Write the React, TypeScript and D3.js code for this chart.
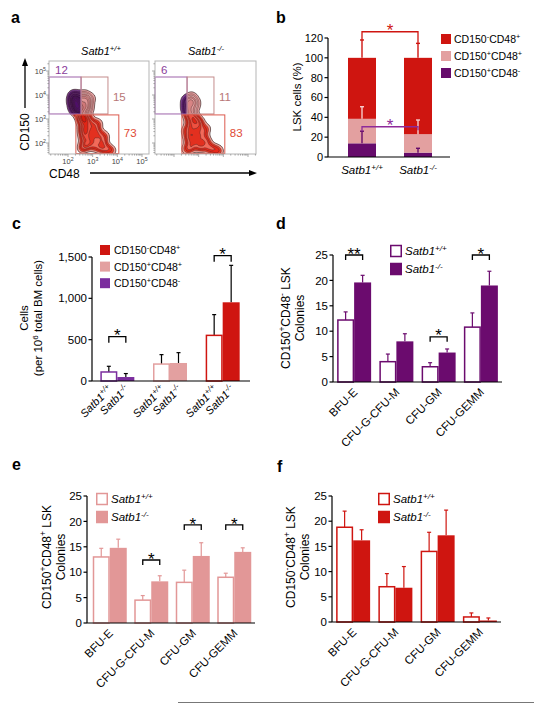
import React, { useMemo } from "react";
import * as d3 from "d3";

const FONT = "'Liberation Sans', Arial, Helvetica, sans-serif";

// ---------- colours ----------
const RED = "#cf1510";
const PINK = "#e3a0a0";
const PINK_E = "#e29797";
const PURPLE_B = "#660b6b";
const PURPLE_C = "#7b2d9e";
const PURPLE_D = "#6b0b6e";

// ---------- data ----------
const genotypes = ["Satb1^{+/+}", "Satb1^{-/-}"];
const populations = ["CD150^{+}CD48^{-}", "CD150^{+}CD48^{+}", "CD150^{-}CD48^{+}"];

// panel a: gate percentages [CD150+CD48-, CD150+CD48+, CD150-CD48+]
const gateWT = [12, 15, 73];
const gateKO = [6, 11, 83];
const flowDecades = [2, 3, 4, 5];
// approximate event clusters (log10 CD48, log10 CD150, weight)
type Pt = [number, number, number];
const flowWT: Pt[] = [
  [2.3, 4.0, 2], [2.3, 3.8, 3], [2.35, 3.6, 3], [2.4, 3.45, 3], [2.2, 3.75, 2], [2.45, 3.3, 2],
  [2.2, 3.95, 1.5], [2.45, 3.75, 2], [2.3, 3.35, 2], [2.18, 3.55, 1.5],
  [2.68, 4.0, 1.5], [2.72, 3.8, 2], [2.75, 3.6, 2], [2.7, 3.35, 2], [2.85, 3.75, 1.5],
  [2.62, 3.9, 1.5], [2.62, 3.5, 2], [2.85, 3.45, 1.5], [2.95, 3.9, 1],
  [2.6, 3.1, 3], [2.8, 3.0, 3], [2.65, 2.8, 3], [2.95, 2.75, 3], [2.75, 2.5, 3], [3.1, 2.5, 3],
  [3.25, 2.3, 2.5], [2.65, 2.25, 3], [2.95, 2.2, 3], [3.4, 2.05, 2.5], [2.75, 1.95, 3], [3.05, 1.9, 3],
  [3.35, 1.8, 3], [3.6, 1.75, 2], [2.6, 1.8, 2.5], [3.75, 1.68, 1.5], [2.6, 2.55, 2.5], [3.2, 2.8, 2],
  [2.5, 3.0, 2], [3.5, 2.3, 1.5],
];
const flowKO: Pt[] = [
  [2.48, 3.8, 1.5], [2.5, 3.55, 2], [2.52, 3.35, 2],
  [2.72, 3.95, 1.5], [2.75, 3.75, 2], [2.8, 3.5, 2], [2.72, 3.3, 2], [2.62, 3.7, 1.5], [2.92, 3.7, 1],
  [2.62, 3.1, 3], [2.82, 3.0, 3], [2.67, 2.75, 3], [2.97, 2.7, 3], [2.77, 2.45, 3], [3.12, 2.4, 3],
  [2.62, 2.2, 3], [2.92, 2.15, 3], [3.27, 2.1, 3], [2.72, 1.9, 3], [3.07, 1.85, 3], [3.42, 1.8, 3],
  [3.67, 1.72, 2], [2.55, 1.75, 2.5], [3.82, 1.66, 1.5], [3.02, 2.9, 2.5], [2.5, 2.5, 2], [3.3, 2.6, 1.5],
];

// panel b: stacked % of LSK
const bPurple = [13.8, 4.4];
const bPink = [24.7, 18.6];
const bRed = [61.5, 77];
const bPurpleErr = [26, 8.8];
const bPinkErr = [50.7, 37.3];
const bRedErr = [118, 114.6];
const bTicks = [0, 20, 40, 60, 80, 100, 120];

// panel c: cells per 10^6 BM cells
const cWT = [109, 205, 552];
const cKO = [48, 218, 952];
const cWTErr = [178, 319, 803];
const cKOErr = [90, 343, 1399];
const cTicks = [0, 500, 1000, 1500];
const cSig = [{ i: 0, level: 536, label: "*" }, { i: 2, level: 1516, label: "*" }];

// panels d-f: colonies
const colonyTypes = ["BFU-E", "CFU-G-CFU-M", "CFU-GM", "CFU-GEMM"];
const colonyTicks = [0, 5, 10, 15, 20, 25];
const dWT = [12.2, 4, 3, 10.8];
const dWTErr = [13.8, 5.5, 3.8, 13.6];
const dKO = [19.6, 8, 5.8, 19];
const dKOErr = [21, 9.5, 6.5, 21.8];
const dSig = [{ i: 0, level: 25, label: "**" }, { i: 2, level: 8.9, label: "*" }, { i: 3, level: 25, label: "*" }];
const eWT = [13, 4.5, 8, 9];
const eWTErr = [14.7, 5.4, 10.4, 9.8];
const eKO = [14.8, 8.2, 13.2, 14];
const eKOErr = [16.5, 9.3, 15.8, 14.8];
const eSig = [{ i: 1, level: 12.4, label: "*" }, { i: 2, level: 19.3, label: "*" }, { i: 3, level: 19.3, label: "*" }];
const fWT = [18.8, 7, 14, 1];
const fWTErr = [22, 9.6, 17.8, 1.8];
const fKO = [16.2, 6.8, 17.2, 0.3];
const fKOErr = [18.3, 11, 22.2, 0.8];

// ---------- helpers ----------
function parseRich(s: string) {
  const parts: { t: string; sup: boolean }[] = [];
  const re = /\^\{([^}]*)\}/g;
  let last = 0;
  let m: RegExpExecArray | null;
  while ((m = re.exec(s))) {
    if (m.index > last) parts.push({ t: s.slice(last, m.index), sup: false });
    parts.push({ t: m[1], sup: true });
    last = m.index + m[0].length;
  }
  if (last < s.length) parts.push({ t: s.slice(last), sup: false });
  return parts;
}

function Rich(props: any) {
  const { text, x, y, fontSize, anchor = "start", italic = false, fill = "#000", transform, weight } = props;
  const parts = parseRich(text);
  const shift = fontSize * 0.38;
  let cur = 0;
  return (
    <text x={x} y={y} fontSize={fontSize} textAnchor={anchor} fontStyle={italic ? "italic" : "normal"}
      fill={fill} transform={transform} fontWeight={weight}>
      {parts.map((p, i) => {
        const target = p.sup ? -shift : 0;
        const dy = target - cur;
        cur = target;
        return (
          <tspan key={i} dy={dy} fontSize={p.sup ? fontSize * 0.7 : fontSize}>{p.t}</tspan>
        );
      })}
    </text>
  );
}

function YAxis({ x, scale, ticks, fmt, fontSize = 11.5 }: any) {
  const [r0, r1] = scale.range();
  return (
    <g>
      <line x1={x} x2={x} y1={r0} y2={r1} stroke="#000" strokeWidth={1.2} />
      {ticks.map((t: number) => (
        <g key={t}>
          <line x1={x - 3.5} x2={x} y1={scale(t)} y2={scale(t)} stroke="#000" strokeWidth={1.2} />
          <text x={x - 5} y={scale(t)} dy="0.36em" textAnchor="end" fontSize={fontSize}>
            {fmt ? fmt(t) : t}
          </text>
        </g>
      ))}
    </g>
  );
}

function ErrBar({ x, y0, y1, color, w = 1.2 }: any) {
  return (
    <g stroke={color} strokeWidth={w}>
      <line x1={x} x2={x} y1={y0} y2={y1} />
      <line x1={x - 2} x2={x + 2} y1={y1} y2={y1} />
    </g>
  );
}

function Star({ x, y, label, color = "#000", size = 17 }: any) {
  // y = horizontal line level; glyph centred ~5px above it
  return (
    <text x={x} y={y - 5 + size * 0.57} textAnchor="middle" fontSize={size} fill={color}>{label}</text>
  );
}

function Bracket({ x1, x2, y, leg = 5, color = "#000", label }: any) {
  return (
    <g>
      <path d={`M${x1},${y + leg}V${y}H${x2}V${y + leg}`} fill="none" stroke={color} strokeWidth={1.3} />
      <Star x={(x1 + x2) / 2} y={y} label={label} color={color} />
    </g>
  );
}

function YLabel({ lines, xs, cy, fontSize = 12 }: any) {
  return (
    <g>
      {lines.map((l: string, i: number) => (
        <Rich key={i} text={l} x={xs[i]} y={cy} fontSize={fontSize} anchor="middle"
          transform={`rotate(-90,${xs[i]},${cy})`} />
      ))}
    </g>
  );
}

// ---------- panel a ----------
const purplePal = ["#7a3d92", "#5c1b76", "#4e0f68", "#6c2c84", "#450a5f", "#5c1b76", "#3d0756", "#4e0f68"];
const pinkPal = ["#eba6a6", "#e39595", "#f0b6b6", "#dc8a8a", "#e8a0a0", "#d88484", "#e19696", "#d07878"];
const redPal = ["#f4a096", "#ec3a26", "#e9281a", "#f26a5a", "#e3301f", "#ee5040", "#e02616", "#d61d0e"];

function FlowPlot({ id, left, top, w, h, pts, vals, showLabels }: any) {
  const xs = d3.scaleLinear().domain([2, 5]).range([19, 93]);
  const ys = d3.scaleLinear().domain([2, 5]).range([82, 10]);
  const contours = useMemo(
    () =>
      d3.contourDensity<Pt>()
        .x((d) => xs(d[0]))
        .y((d) => ys(d[1]))
        .weight((d) => d[2])
        .size([w, h])
        .cellSize(2)
        .bandwidth(2.8)
        .thresholds(9)(pts),
    [pts]
  );
  const path = d3.geoPath();
  const splitX = xs(2.53);
  const splitY = ys(3.19);
  const regions = [
    { key: "pu", r: [0, 0, splitX, splitY], pal: purplePal },
    { key: "pk", r: [splitX, 0, w - splitX, splitY], pal: pinkPal },
    { key: "rd", r: [0, splitY, w, h - splitY], pal: redPal },
  ];
  const lo = xs.invert(0), hi = xs.invert(w);
  const ylo = ys.invert(h), yhi = ys.invert(0);
  const minorX: { v: number; major: boolean }[] = [];
  const minorY: { v: number; major: boolean }[] = [];
  for (let dec = 1; dec <= 5; dec++) {
    for (let k = 1; k <= 9; k++) {
      const v = dec + Math.log10(k);
      if (v >= lo && v <= hi) minorX.push({ v, major: k === 1 });
      if (v >= ylo && v <= yhi) minorY.push({ v, major: k === 1 });
    }
  }
  // gates (log units)
  const gPurple = [xs.invert(0), 4.75, 2.53, 3.21];
  const gPink = [2.53, 4.75, 3.62, 3.21];
  const gRed = [2.32, 3.17, 4.06, ys.invert(h - 0.5)];
  const gRect = (g: number[], color: string) => (
    <rect x={xs(g[0])} y={ys(g[1])} width={xs(g[2]) - xs(g[0])} height={ys(g[3]) - ys(g[1])}
      fill="none" stroke={color} strokeWidth={1} />
  );
  return (
    <g transform={`translate(${left},${top})`}>
      <defs>
        {regions.map((r) => (
          <clipPath key={r.key} id={`${id}-${r.key}`}>
            <rect x={r.r[0]} y={r.r[1]} width={r.r[2]} height={r.r[3]} />
          </clipPath>
        ))}
      </defs>
      {regions.map((r) => (
        <g key={r.key} clipPath={`url(#${id}-${r.key})`}>
          {contours.map((c, i) => (
            <path key={i} d={path(c as any) || ""} fill={r.pal[Math.min(i, r.pal.length - 1)]}
              stroke="#3b2525" strokeWidth={i === 0 ? 0.8 : 0.45} strokeOpacity={0.85} />
          ))}
        </g>
      ))}
      {gRect(gPurple, "#9d62aa")}
      {gRect(gPink, "#c48c8c")}
      {gRect(gRed, "#dc5a4e")}
      <rect x={0} y={0} width={w} height={h} fill="none" stroke="#b5b5b5" strokeWidth={1} />
      {minorX.map((t, i) => (
        <line key={"x" + i} x1={xs(t.v)} x2={xs(t.v)} y1={h} y2={h + (t.major ? 3 : 1.6)} stroke="#888" strokeWidth={0.7} />
      ))}
      {minorY.map((t, i) => (
        <line key={"y" + i} x1={0} x2={t.major ? -3 : -1.6} y1={ys(t.v)} y2={ys(t.v)} stroke="#888" strokeWidth={0.7} />
      ))}
      {showLabels &&
        flowDecades.map((d) => (
          <g key={d}>
            <Rich text={`10^{${d}}`} x={xs(d)} y={h + 10} fontSize={7.5} anchor="middle" fill="#444" />
            <Rich text={`10^{${d}}`} x={-3} y={ys(d) + 3} fontSize={7.5} anchor="end" fill="#444" />
          </g>
        ))}
      <text x={6} y={13} fontSize={11.5} fill="#8b3d9a">{vals[0]}</text>
      <text x={xs(3.62) + 5} y={ys(3.9) + 4} fontSize={11.5} fill="#b87676">{vals[1]}</text>
      <text x={xs(4.06) + 5} y={ys(2.4) + 4} fontSize={11.5} fill="#e04a35">{vals[2]}</text>
    </g>
  );
}

function PanelA() {
  return (
    <g>
      <text x={11} y={23} fontSize={16} fontWeight="bold">a</text>
      <Rich text={genotypes[0]} x={101} y={55} fontSize={11} anchor="middle" italic />
      <Rich text={genotypes[1]} x={206} y={55} fontSize={11} anchor="middle" italic />
      <FlowPlot id="wt" left={49} top={61} w={100} h={93} pts={flowWT} vals={gateWT} showLabels />
      <FlowPlot id="ko" left={155} top={61} w={101} h={93} pts={flowKO} vals={gateKO} showLabels={false} />
      <text x={25} y={132} fontSize={12} textAnchor="middle" dy="0.35em" transform="rotate(-90,25,132)">CD150</text>
      <line x1={25} x2={25} y1={108} y2={64} stroke="#000" strokeWidth={1.3} />
      <path d="M25,58L22,66L28,66Z" fill="#000" />
      <text x={49} y={178} fontSize={12}>CD48</text>
      <line x1={90} x2={250} y1={173} y2={173} stroke="#000" strokeWidth={1.3} />
      <path d="M257,173L249,170L249,176Z" fill="#000" />
    </g>
  );
}

// ---------- panel b ----------
function PanelB() {
  const y = d3.scaleLinear().domain([0, 120]).range([157, 38]);
  const x = d3.scaleBand().domain(genotypes).range([334, 446]);
  const rows = genotypes.map((g, i) => ({ g, purple: bPurple[i], pink: bPink[i], red: bRed[i] }));
  const stack = d3.stack<any>().keys(["purple", "pink", "red"])(rows);
  const colors: Record<string, string> = { purple: PURPLE_B, pink: PINK, red: RED };
  const errColors: Record<string, string> = { purple: PURPLE_B, pink: "#f7cccc", red: RED };
  const errs: Record<string, number[]> = { purple: bPurpleErr, pink: bPinkErr, red: bRedErr };
  const bw = 28;
  const cx = (g: string) => (x(g) as number) + x.bandwidth() / 2;
  const mid = (cx(genotypes[0]) + cx(genotypes[1])) / 2;
  const legend = [
    { label: populations[2], color: RED },
    { label: populations[1], color: PINK },
    { label: populations[0], color: PURPLE_B },
  ];
  return (
    <g>
      <text x={276} y={23} fontSize={16} fontWeight="bold">b</text>
      {stack.map((s) =>
        s.map((d, i) => (
          <rect key={s.key + i} x={cx(genotypes[i]) - bw / 2} y={y(d[1])} width={bw} height={y(d[0]) - y(d[1])}
            fill={colors[s.key]} />
        ))
      )}
      {stack.map((s) =>
        s.map((d, i) => (
          <ErrBar key={"e" + s.key + i} x={cx(genotypes[i])} y0={y(d[1])} y1={y(errs[s.key][i])} color={errColors[s.key]} w={1.4} />
        ))
      )}
      <YAxis x={328} scale={y} ticks={bTicks} fontSize={11} />
      <line x1={328} x2={450} y1={157} y2={157} stroke="#000" strokeWidth={1.2} />
      {genotypes.map((g) => (
        <Rich key={g} text={g} x={cx(g)} y={174} fontSize={11.5} anchor="middle" italic />
      ))}
      <path d={`M${cx(genotypes[0])},${y(bRedErr[0])}V${y(126.3)}H${cx(genotypes[1])}V${y(bRedErr[1])}`}
        fill="none" stroke={RED} strokeWidth={1.3} />
      <Star x={mid} y={y(126.3)} label="*" color={RED} />
      <path d={`M${cx(genotypes[0])},${y(bPurpleErr[0])}V${y(30.5)}H${cx(genotypes[1])}V${y(27)}`}
        fill="none" stroke="#8e2a9a" strokeWidth={1.3} />
      <Star x={mid} y={y(30.5)} label="*" color="#8e2a9a" />
      <text x={297} y={97} fontSize={11.5} textAnchor="middle" dy="0.35em" transform="rotate(-90,297,97)">LSK cells (%)</text>
      {legend.map((l, i) => (
        <g key={i}>
          <rect x={441} y={34 + i * 17} width={10} height={10} fill={l.color} />
          <Rich text={l.label} x={454} y={43 + i * 17} fontSize={10.5} />
        </g>
      ))}
    </g>
  );
}

// ---------- panel c ----------
function PanelC() {
  const y = d3.scaleLinear().domain([0, 1500]).range([381, 257]);
  const x = d3.scaleBand().domain(populations).range([91, 249]);
  const cColors = [PURPLE_C, PINK, RED];
  const bw = 17;
  const cx = (i: number) => (x(populations[i]) as number) + x.bandwidth() / 2;
  const legend = [
    { label: populations[2], color: RED },
    { label: populations[1], color: PINK },
    { label: populations[0], color: PURPLE_C },
  ];
  return (
    <g>
      <text x={12} y={229} fontSize={16} fontWeight="bold">c</text>
      {populations.map((p, i) => (
        <g key={p}>
          <ErrBar x={cx(i) - bw / 2} y0={y(cWT[i])} y1={y(cWTErr[i])} color="#000" />
          <ErrBar x={cx(i) + bw / 2} y0={y(cKO[i])} y1={y(cKOErr[i])} color="#000" />
          <rect x={cx(i) - bw + 0.75} y={y(cWT[i])} width={bw - 1.5} height={y(0) - y(cWT[i])}
            fill="#fff" stroke={cColors[i]} strokeWidth={1.5} />
          <rect x={cx(i)} y={y(cKO[i])} width={bw} height={y(0) - y(cKO[i])} fill={cColors[i]} />
          <Rich text={genotypes[0]} x={cx(i) - bw / 2 + 4} y={390} fontSize={11} anchor="end" italic
            transform={`rotate(-45,${cx(i) - bw / 2 + 4},390)`} />
          <Rich text={genotypes[1]} x={cx(i) + bw / 2 + 4} y={390} fontSize={11} anchor="end" italic
            transform={`rotate(-45,${cx(i) + bw / 2 + 4},390)`} />
        </g>
      ))}
      {cSig.map((s, k) => (
        <Bracket key={k} x1={cx(s.i) - bw / 2} x2={cx(s.i) + bw / 2} y={y(s.level)} label={s.label} leg={6} />
      ))}
      <YAxis x={92} scale={y} ticks={cTicks} fmt={d3.format(",")} fontSize={11.5} />
      <line x1={92} x2={250} y1={381} y2={381} stroke="#000" strokeWidth={1.2} />
      <YLabel lines={["Cells", "(per 10^{6} total BM cells)"]} xs={[28, 42]} cy={318} fontSize={11.5} />
      {legend.map((l, i) => (
        <g key={i}>
          <rect x={100} y={245 + i * 16.6} width={10} height={10} fill={l.color} />
          <Rich text={l.label} x={114} y={254 + i * 16.6} fontSize={10.5} />
        </g>
      ))}
    </g>
  );
}

// ---------- colony panels ----------
function ColonyPanel(props: any) {
  const { letter, lx, ly, axisX, axisEnd, band, yRange, wt, wtErr, ko, koErr, color, errColor, sig,
    legX, legY, ylabel, ylabelXs, ylabelCy } = props;
  const y = d3.scaleLinear().domain([0, 25]).range(yRange);
  const x = d3.scaleBand().domain(colonyTypes).range(band);
  const bw = 17;
  const cx = (i: number) => (x(colonyTypes[i]) as number) + x.bandwidth() / 2;
  const y0 = yRange[0];
  return (
    <g>
      <text x={lx} y={ly} fontSize={16} fontWeight="bold">{letter}</text>
      {colonyTypes.map((c, i) => (
        <g key={c}>
          <ErrBar x={cx(i) - bw / 2} y0={y(wt[i])} y1={y(wtErr[i])} color={errColor} />
          <ErrBar x={cx(i) + bw / 2} y0={y(ko[i])} y1={y(koErr[i])} color={errColor} />
          <rect x={cx(i) - bw + 0.75} y={y(wt[i])} width={bw - 1.5} height={y(0) - y(wt[i])}
            fill="#fff" stroke={color} strokeWidth={1.5} />
          <rect x={cx(i)} y={y(ko[i])} width={bw} height={y(0) - y(ko[i])} fill={color} />
          <text x={cx(i) + 4} y={y0 + 11} fontSize={11.5} textAnchor="end"
            transform={`rotate(-45,${cx(i) + 4},${y0 + 11})`}>{c}</text>
        </g>
      ))}
      {(sig || []).map((s: any, k: number) => (
        <Bracket key={k} x1={cx(s.i) - bw / 2} x2={cx(s.i) + bw / 2} y={y(s.level)} label={s.label} leg={5} />
      ))}
      <YAxis x={axisX} scale={y} ticks={colonyTicks} fontSize={11.5} />
      <line x1={axisX} x2={axisEnd} y1={y0} y2={y0} stroke="#000" strokeWidth={1.2} />
      <YLabel lines={[ylabel, "Colonies"]} xs={ylabelXs} cy={ylabelCy} />
      {genotypes.map((g, i) => (
        <g key={g}>
          <rect x={legX + 0.75} y={legY + i * 18 - 5.5} width={10.5} height={11} fill={i === 0 ? "#fff" : color}
            stroke={color} strokeWidth={1.5} />
          <Rich text={g} x={legX + 15} y={legY + i * 18 + 4} fontSize={11.5} italic />
        </g>
      ))}
    </g>
  );
}

export default function App() {
  return (
    <svg width={534} height={704} style={{ position: "absolute", left: 0, top: 0 }} fontFamily={FONT}>
      <rect width={534} height={704} fill="#fff" />
      <PanelA />
      <PanelB />
      <PanelC />
      <ColonyPanel letter="d" lx={276} ly={229} axisX={333} axisEnd={502} band={[333, 502]} yRange={[382, 255]}
        wt={dWT} wtErr={dWTErr} ko={dKO} koErr={dKOErr} color={PURPLE_D} errColor={PURPLE_D} sig={dSig}
        legX={390} legY={251} ylabel="CD150^{+}CD48^{-} LSK" ylabelXs={[290, 304]} ylabelCy={318} />
      <ColonyPanel letter="e" lx={12} ly={470} axisX={87} axisEnd={255} band={[89, 255]} yRange={[623, 496]}
        wt={eWT} wtErr={eWTErr} ko={eKO} koErr={eKOErr} color={PINK_E} errColor={PINK_E} sig={eSig}
        legX={96} legY={499} ylabel="CD150^{+}CD48^{+} LSK" ylabelXs={[51, 65]} ylabelCy={557} />
      <ColonyPanel letter="f" lx={277} ly={472} axisX={332} axisEnd={501} band={[332, 501]} yRange={[622, 496]}
        wt={fWT} wtErr={fWTErr} ko={fKO} koErr={fKOErr} color={RED} errColor={RED} sig={[]}
        legX={378} legY={499} ylabel="CD150^{-}CD48^{+} LSK" ylabelXs={[295, 309]} ylabelCy={557} />
      <line x1={178} x2={534} y1={702.5} y2={702.5} stroke="#777" strokeWidth={1} />
    </svg>
  );
}
